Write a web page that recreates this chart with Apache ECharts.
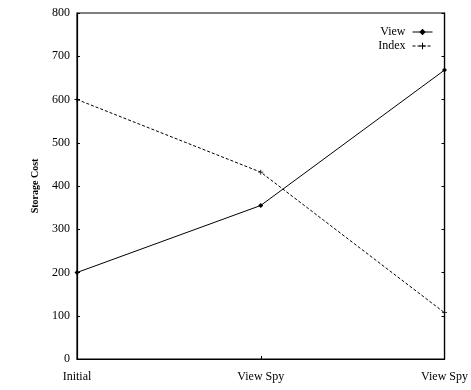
<!DOCTYPE html>
<html>
<head>
<meta charset="utf-8">
<style>
  html, body { margin: 0; padding: 0; background: #fff; }
  #chart { width: 471px; height: 390px; }
</style>
<script src="https://cdn.jsdelivr.net/npm/echarts@6/dist/echarts.min.js"></script>
</head>
<body>
<div id="chart"></div>
<script>
// Storage cost per stage
const stages = ['Initial', 'View Spy', 'View Spy'];
const viewCost = [200, 355, 668];
const indexCost = [600, 432, 107];
const yTicks = { min: 0, max: 800, step: 100 };

const FONT = '"Liberation Serif", "DejaVu Serif", serif';
// thin filled plus sign used as the Index marker
const PLUS = 'path://M4.2,0 L5.8,0 L5.8,4.2 L10,4.2 L10,5.8 L5.8,5.8 L5.8,10 L4.2,10 L4.2,5.8 L0,5.8 L0,4.2 L4.2,4.2 Z';

const chart = echarts.init(document.getElementById('chart'), null, { renderer: 'canvas' });

chart.setOption({
  animation: false,
  backgroundColor: '#fff',
  textStyle: { fontFamily: FONT, color: '#000' },
  grid: {
    left: 77, right: 26, top: 13, bottom: 31,
    show: true, borderColor: '#000', borderWidth: 1.2, backgroundColor: 'transparent'
  },
  legend: {
    top: 26, right: 38,
    padding: 0,
    orient: 'vertical',
    align: 'right',
    itemGap: 2,
    itemWidth: 20, itemHeight: 8,
    lineStyle: { width: 1 },
    textStyle: { fontFamily: FONT, fontSize: 12, color: '#000', padding: [0, 2, 0, 0] },
    data: ['View', 'Index']
  },
  xAxis: {
    type: 'category',
    data: stages,
    boundaryGap: false,
    axisLine: { lineStyle: { color: '#000', width: 1.2 } },
    axisTick: { inside: true, length: 3, lineStyle: { color: '#000' } },
    axisLabel: { fontFamily: FONT, fontSize: 12, color: '#000', margin: 12 },
    splitLine: { show: false }
  },
  yAxis: [{
    type: 'value',
    min: yTicks.min, max: yTicks.max, interval: yTicks.step,
    name: 'Storage Cost',
    nameLocation: 'middle',
    nameGap: 37,
    nameTextStyle: { fontFamily: FONT, fontSize: 10, fontWeight: 'bold', color: '#000' },
    axisLine: { show: true, lineStyle: { color: '#000', width: 1.2 } },
    axisTick: { show: true, inside: true, length: 3, lineStyle: { color: '#000' } },
    axisLabel: { fontFamily: FONT, fontSize: 12, color: '#000', margin: 7 },
    splitLine: { show: false }
  }, {
    type: 'value',
    position: 'right',
    min: yTicks.min, max: yTicks.max, interval: yTicks.step,
    axisLine: { show: true, lineStyle: { color: '#000', width: 1.2 } },
    axisTick: { show: true, inside: true, length: 3, lineStyle: { color: '#000' } },
    axisLabel: { show: false },
    splitLine: { show: false }
  }],
  series: [{
    name: 'View',
    type: 'line',
    data: viewCost,
    symbol: 'diamond',
    symbolSize: 5,
    itemStyle: { color: '#000' },
    lineStyle: { color: '#000', width: 1 }
  }, {
    name: 'Index',
    type: 'line',
    data: indexCost,
    symbol: PLUS,
    symbolSize: 5,
    itemStyle: { color: '#000' },
    lineStyle: { color: '#000', width: 1, type: [3, 2] }
  }]
});
</script>
</body>
</html>
